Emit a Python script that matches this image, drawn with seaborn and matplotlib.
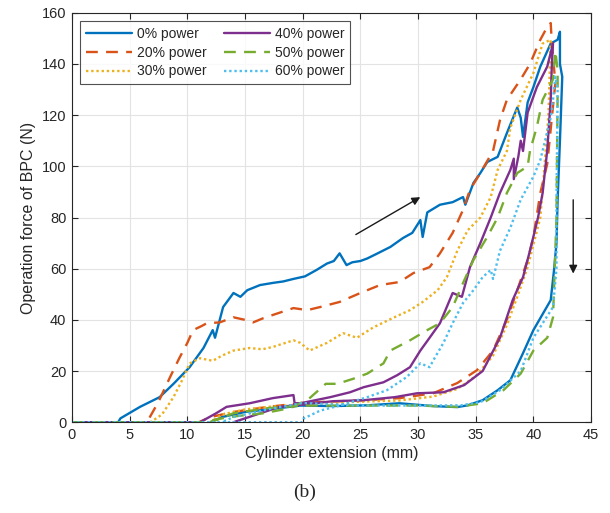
import matplotlib
matplotlib.use("Agg")
import matplotlib.pyplot as plt
import seaborn as sns
import pandas as pd

# ---------------- data ----------------
labels = ["0% power", "20% power", "30% power", "40% power", "50% power", "60% power"]

x_p0 = [0, 4.0, 4.2, 5.9, 7.6, 8.8, 10.2, 11.4, 12.2, 12.4, 13.1, 14.0, 14.6, 15.2, 16.3, 17.5, 18.3, 19.2,
        20.2, 21.2, 22.1, 22.7, 23.2, 23.8, 24.3, 25.0, 25.6, 26.5, 27.6, 28.7, 29.5, 30.2, 30.4, 30.8,
        31.9, 33.0, 33.9, 34.1, 34.8, 35.4, 36.0, 36.9, 37.7, 38.6, 38.9, 39.1, 39.5, 40.0, 40.6, 41.1,
        41.5, 42.1, 42.3, 42.3, 42.5, 42.3, 42.1, 42.0, 41.8, 41.5, 41.0, 40.0, 39.1, 38.0, 36.9, 35.6,
        34.3, 33.4, 31.3, 28.4, 25.6, 22.6, 19.8, 17.0, 15.0, 13.0, 12.0]
y_p0 = [0, 0, 1.5, 6, 9.8, 15, 21.5, 29, 36, 33, 45, 50.5, 49, 51.6, 53.6, 54.5, 55, 56,
        57, 59.5, 62, 63, 66, 61.4, 62.5, 63, 64, 66, 68.5, 72, 74, 79, 72.4, 82,
        85, 86, 88, 85, 93.5, 97.4, 101.7, 103.7, 113, 123, 119, 111.5, 125, 131, 139, 144,
        148, 149.5, 152.6, 140, 135, 110, 87, 70, 60, 47.7, 43.8, 36, 27, 16.4, 12.5, 8.6,
        6.6, 5.9, 6.3, 7.4, 6.6, 6.3, 6.5, 5, 4, 2, 0]

x_p20 = [0, 6.5, 7.5, 8.5, 9.3, 10.0, 10.5, 11.2, 11.7, 12.8, 14.0, 15.0, 15.7, 16.5, 17.4, 19.2, 20.4,
         21.5, 23.2, 25.0, 26.7, 28.4, 29.6, 31.0, 31.9, 33.0, 33.9, 34.5, 35.4, 36.5, 37.1, 37.7,
         38.9, 39.7, 40.6, 41.2, 41.5, 41.6, 41.9, 41.2, 40.6, 40.0, 39.5, 38.6, 37.7, 36.5, 35.1,
         33.4, 31.3, 28.4, 25.0, 22.0, 20.0, 17.0, 14.0, 12.0, 11.0]
y_p20 = [0, 0, 8, 17.6, 25, 31, 36, 37.5, 38.7, 39, 41, 40, 39, 40.5, 41.9, 44.6, 43.8,
         45, 47, 50.5, 53.6, 54.8, 58.3, 60.6, 66, 74, 83, 90.8, 97.4, 106, 118, 126,
         134, 140, 149.5, 154.5, 156, 148, 132.6, 101, 89.6, 72.4, 63.4, 51.6, 40, 28, 20.3,
         15.3, 11.3, 9.4, 8.5, 8, 7.5, 6, 4, 2, 0]

x_p30 = [0, 6.8, 7.8, 8.8, 9.5, 10.2, 11.1, 12.2, 13.0, 14.0, 15.4, 16.5, 17.4, 19.2, 19.8, 20.6, 22.1,
         23.5, 24.7, 26.1, 27.8, 29.3, 30.4, 31.7, 32.5, 33.4, 34.3, 35.4, 36.3, 36.9, 37.7, 38.0,
         38.9, 40.0, 40.8, 41.5, 41.3, 40.8, 40.6, 39.5, 38.6, 37.7, 36.5, 35.0, 33.4, 31.3, 28.4,
         25.0, 22.0, 20.0, 17.0, 15.0, 13.0, 12.0]
y_p30 = [0, 0, 3, 9.8, 16, 23, 25, 24, 26, 28, 29, 28.5, 29.4, 32, 31, 28, 31,
         34.8, 33, 37, 40.7, 43.8, 47, 51.6, 56.7, 67, 75, 80, 88, 98.6, 106, 115,
         126, 136.5, 148, 149.5, 120, 90.8, 80, 60.6, 49, 38, 26, 18, 13, 10, 8.5,
         8, 7.5, 7, 6, 5, 3, 0]

x_p40 = [0, 11.1, 12.5, 13.4, 15.4, 17.4, 19.2, 19.3, 19.8, 21.0, 22.4, 24.1, 25.3, 27.0, 28.2, 29.3,
         30.2, 31.0, 31.9, 33.0, 33.8, 34.5, 35.4, 36.3, 37.1, 38.0, 38.3, 38.3, 38.7, 38.9, 39.1,
         39.5, 40.3, 41.2, 41.7, 41.6, 41.5, 41.2, 40.8, 40.4, 39.7, 39.1, 38.2, 37.1, 35.6, 34.0,
         32.2, 29.9, 28.0, 25.3, 22.6, 19.8, 18.0, 16.0, 14.0]
y_p40 = [0, 0, 3.5, 6, 7.4, 9.4, 10.6, 7.4, 7.4, 8.5, 9.8, 11.7, 13.7, 15.6, 18.4, 21.5,
         28, 33, 38.7, 50.5, 49, 60.6, 70, 80, 89.6, 98.6, 103, 95, 104, 110, 106,
         121, 131, 139, 148, 140, 126, 106.4, 89.6, 80, 67, 56.7, 47.7, 33, 20, 14.5,
         11.7, 11.3, 9.8, 8.6, 8.2, 6.8, 6, 3, 0]

x_p50 = [0, 11.4, 13.0, 14.5, 16.6, 18.9, 20.5, 22.0, 23.0, 24.4, 25.6, 27.0, 27.6, 29.3, 30.8,
         31.9, 33.0, 33.9, 34.8, 36.0, 36.9, 37.7, 38.6, 39.5, 39.7, 40.3, 40.8, 41.7, 41.9, 42.1,
         42.1, 42.0, 41.7, 41.2, 40.0, 38.9, 37.4, 35.6, 33.4, 30.0, 25.0, 20.0, 17.0, 14.0, 12.0]
y_p50 = [0, 0, 1.5, 2.5, 3.5, 5.5, 9, 15, 15, 17, 19, 23, 28, 32, 36,
         38.7, 45, 54.4, 63.4, 72.4, 80, 89.6, 97.4, 100, 106, 115.5, 126, 134, 145, 137.7,
         128.7, 80, 41, 33, 28, 19, 12.5, 7.4, 6, 6.5, 6.5, 6.5, 5.5, 3.5, 0]

x_p60 = [0, 20.0, 20.1, 21.5, 23.2, 25.6, 27.3, 29.0, 30.2, 31.0, 31.3, 32.2, 33.0, 33.9, 34.8, 35.6,
         36.3, 36.5, 37.1, 38.0, 38.9, 40.0, 40.6, 41.5, 41.7, 41.9, 42.1, 42.0, 42.0, 41.7, 40.0,
         38.9, 37.1, 35.4, 33.7, 30.0, 25.0, 20.0, 17.0, 14.0, 13.0]
y_p60 = [0, 0, 1.5, 4.5, 6.5, 9.8, 12.5, 17.6, 23, 21.5, 24, 31, 38.7, 46.6, 51.6, 56.7,
         59.5, 56, 67, 76, 87, 96, 102.5, 119, 126, 135, 130, 87, 60, 45, 33,
         20, 12.5, 7.8, 6.6, 6.5, 6.5, 7.5, 5, 2, 0]

xs = [x_p0, x_p20, x_p30, x_p40, x_p50, x_p60]
ys = [y_p0, y_p20, y_p30, y_p40, y_p50, y_p60]

x_ticks = [0, 5, 10, 15, 20, 25, 30, 35, 40, 45]
y_ticks = [0, 20, 40, 60, 80, 100, 120, 140, 160]

# ---------------- styling ----------------
sns.set_theme(style="white")
plt.rcParams["font.family"] = ["Liberation Sans", "DejaVu Sans"]

colors = ["#0072BD", "#D95319", "#EDB120", "#7E2F8E", "#77AC30", "#4DBEEE"]
styles = ["-", (0, (5, 3.5)), (0, (1, 1.2)), "-", (0, (5, 3.5)), (0, (1, 1.2))]

fig = plt.figure(figsize=(6.10, 5.13), dpi=100)
ax = fig.add_axes([0.118, 0.177, 0.851, 0.798])

for xv, yv, lab, c, ls in zip(xs, ys, labels, colors, styles):
    df = pd.DataFrame({"x": xv, "y": yv})
    sns.lineplot(data=df, x="x", y="y", sort=False, estimator=None, ax=ax,
                 color=c, linewidth=1.7, label=lab, linestyle=ls)

# arrows
ax.annotate("", xy=(30.4, 88.5), xytext=(24.4, 72.8),
            arrowprops=dict(arrowstyle="-|>", color="#1a1a1a", lw=1.0, mutation_scale=12))
ax.annotate("", xy=(43.45, 57), xytext=(43.45, 88),
            arrowprops=dict(arrowstyle="-|>", color="#1a1a1a", lw=1.0, mutation_scale=12))

ax.set_xlim(0, 45)
ax.set_ylim(0, 160)
ax.set_xticks(x_ticks)
ax.set_yticks(y_ticks)
ax.grid(True, color="#e3e3e3", linewidth=0.8)
ax.set_axisbelow(True)
for s in ax.spines.values():
    s.set_color("#262626")
    s.set_linewidth(0.8)
ax.tick_params(direction="in", length=4, width=0.8, colors="#262626", labelsize=10.5,
               top=True, right=True, bottom=True, left=True, pad=4)
ax.set_xlabel("Cylinder extension (mm)", fontsize=11.5, color="#262626", labelpad=3)
ax.set_ylabel("Operation force of BPC (N)", fontsize=11.5, color="#262626", labelpad=4)

leg = ax.legend(loc="upper left", ncol=2, fontsize=10, frameon=True, fancybox=False,
                borderaxespad=0.6, handlelength=3.3, columnspacing=1.2, labelspacing=0.35,
                handletextpad=0.4, borderpad=0.4)
leg.get_frame().set_edgecolor("#262626")
leg.get_frame().set_linewidth(0.8)

fig.text(0.5, 0.04, "(b)", ha="center", va="center", fontsize=14,
         family=["Liberation Serif", "DejaVu Serif"])

fig.savefig("out.png", dpi=100)
